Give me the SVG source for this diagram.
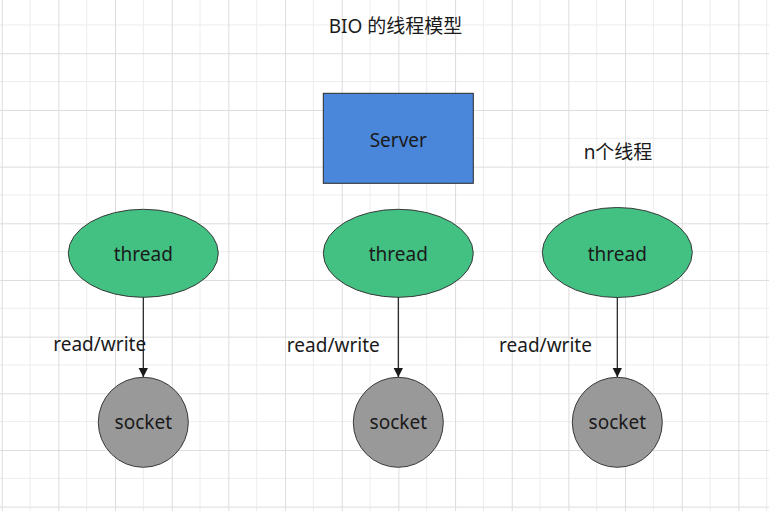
<svg xmlns="http://www.w3.org/2000/svg" width="769" height="511" viewBox="0 0 769 511">
<defs>
<pattern id="grid" patternUnits="userSpaceOnUse" x="1.7" y="-3.4" width="56.67" height="56.67">
<path d="M28.33 0V56.67M0 28.33H56.67" stroke="#ececec" stroke-width="1" fill="none"/>
<path d="M0.5 0V56.67M0 0.5H56.67" stroke="#dcdcdc" stroke-width="1" fill="none"/>
</pattern>
<marker id="arr" markerUnits="userSpaceOnUse" markerWidth="10" markerHeight="10" refX="9.5" refY="4.75" orient="auto">
<path d="M0 0L9.5 4.75L0 9.5Z" fill="#1a1a1a"/>
</marker>
<style>
text{font-family:"Noto Sans","Noto Sans CJK SC",sans-serif;font-size:19px;fill:#1a1a1a;text-anchor:middle}
.srv{fill:#4a86d9;stroke:#2b2b2b;stroke-width:1}
.thr{fill:#43c183;stroke:#3a3a3a;stroke-width:1}
.sock{fill:#999999;stroke:#3a3a3a;stroke-width:1}
.edge{stroke:#1a1a1a;stroke-width:1.2;fill:none;marker-end:url(#arr)}
</style>
</defs>
<rect width="769" height="511" fill="#ffffff"/>
<rect width="769" height="511" fill="url(#grid)"/>
<text x="395.5" y="33">BIO 的线程模型</text>
<text x="618" y="159">n个线程</text>
<g id="server"><rect class="srv" x="323.3" y="93.3" width="150" height="90"/><text x="398.3" y="146.5">Server</text></g>
<g id="thread1"><ellipse class="thr" cx="143.3" cy="253.3" rx="75" ry="44"/><text x="143.3" y="260.5">thread</text></g>
<g id="thread2"><ellipse class="thr" cx="398.3" cy="253.3" rx="75" ry="44"/><text x="398.3" y="260.5">thread</text></g>
<g id="thread3"><ellipse class="thr" cx="617.3" cy="252.5" rx="75" ry="45"/><text x="617.3" y="260.5">thread</text></g>
<g id="socket1"><circle class="sock" cx="143.3" cy="422.3" r="45"/><text x="143.3" y="429.3">socket</text></g>
<g id="socket2"><circle class="sock" cx="398.3" cy="422.3" r="45"/><text x="398.3" y="429.3">socket</text></g>
<g id="socket3"><circle class="sock" cx="617.3" cy="422.3" r="45"/><text x="617.3" y="429.3">socket</text></g>
<g id="connectors">
<path class="edge" d="M143.3 297.3V377.3"/>
<path class="edge" d="M398.3 297.3V377.3"/>
<path class="edge" d="M617.3 297.5V377.3"/>
<text x="99.7" y="351">read/write</text>
<text x="333.3" y="352">read/write</text>
<text x="545.5" y="351.7">read/write</text>
</g>
</svg>
